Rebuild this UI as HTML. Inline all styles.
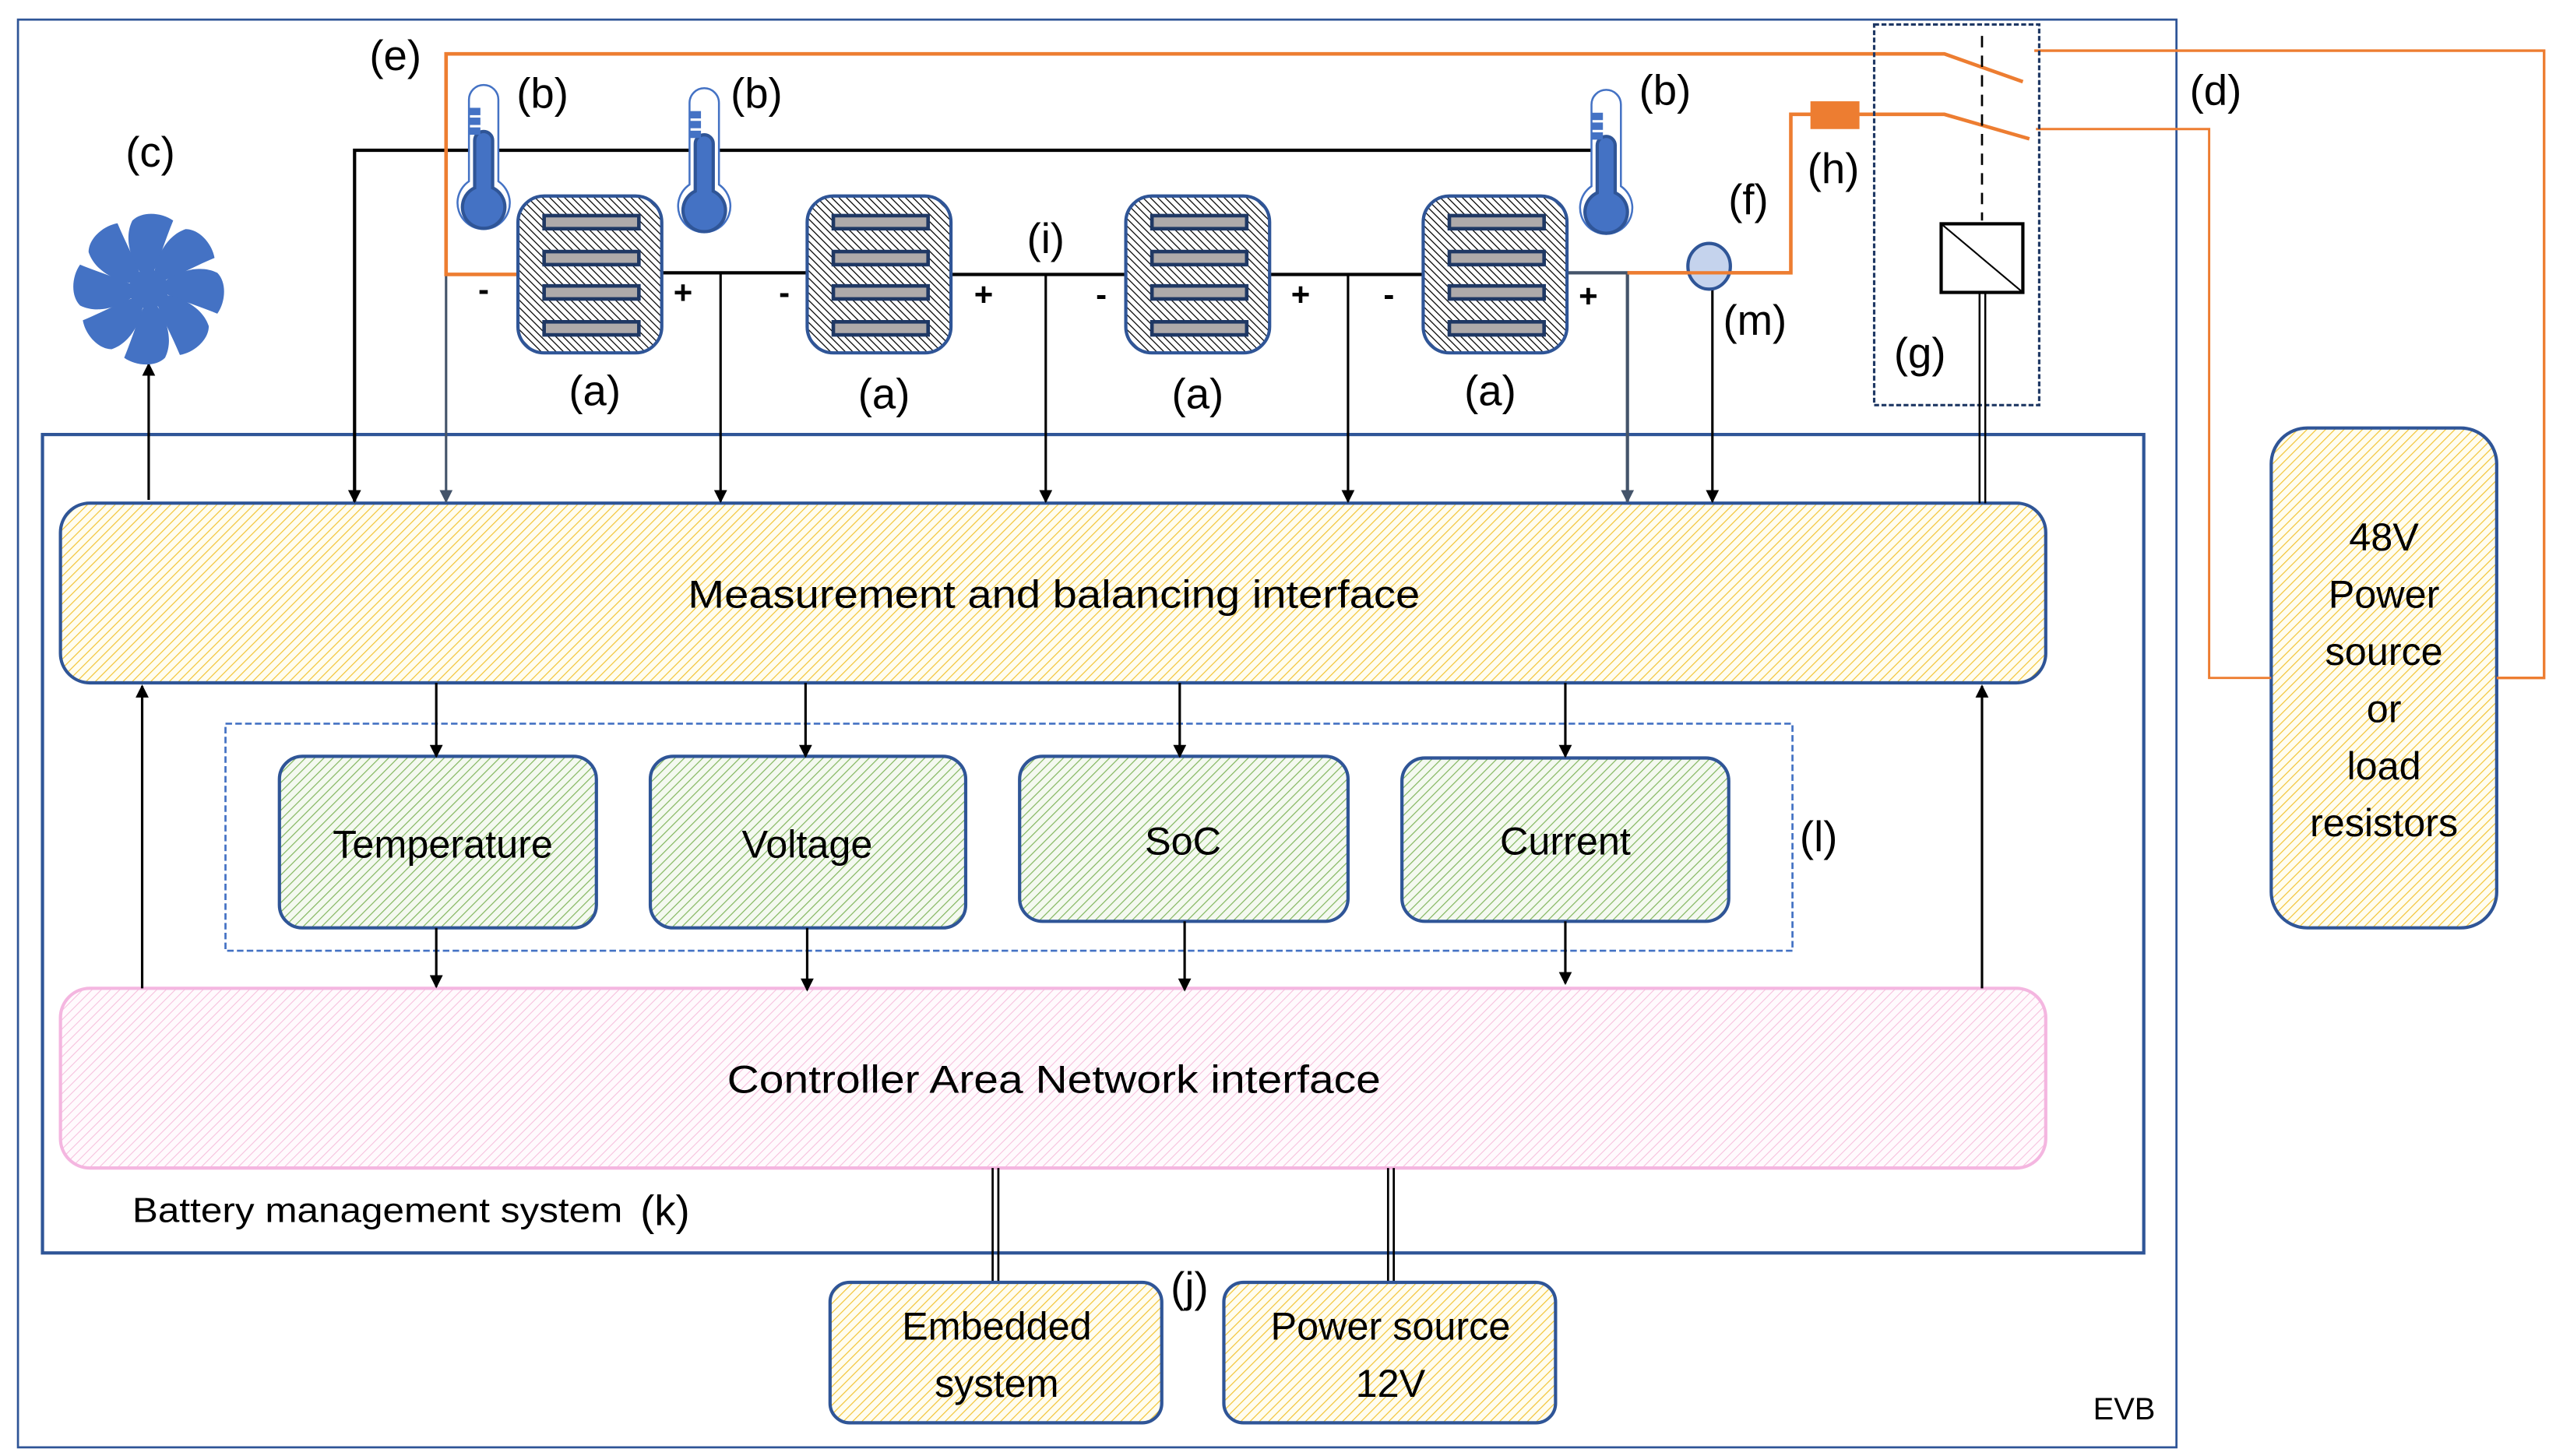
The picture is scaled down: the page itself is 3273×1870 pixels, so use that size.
<!DOCTYPE html>
<html><head><meta charset="utf-8"><style>
html,body{margin:0;padding:0;background:#fff;}
svg{display:block;}
text{font-family:"Liberation Sans",sans-serif;fill:#000;}
</style></head><body>
<svg width="3273" height="1870" viewBox="0 0 1560 891.3" preserveAspectRatio="none" xmlns="http://www.w3.org/2000/svg">
<defs>
<pattern id="py" width="4" height="4" patternUnits="userSpaceOnUse" patternTransform="rotate(45)"><rect width="4" height="4" fill="#fffdf0"/><line x1="0" y1="0" x2="0" y2="4" stroke="#f2c230" stroke-width="1.1"/></pattern>
<pattern id="pg" width="4" height="4" patternUnits="userSpaceOnUse" patternTransform="rotate(45)"><rect width="4" height="4" fill="#f4f9f0"/><line x1="0" y1="0" x2="0" y2="4" stroke="#7fb45a" stroke-width="1.1"/></pattern>
<pattern id="pp" width="4" height="4" patternUnits="userSpaceOnUse" patternTransform="rotate(45)"><rect width="4" height="4" fill="#fffafd"/><line x1="0" y1="0" x2="0" y2="4" stroke="#f6bfdc" stroke-width="1"/></pattern>
<pattern id="pb" width="3.2" height="3.2" patternUnits="userSpaceOnUse" patternTransform="rotate(-45)"><rect width="3.2" height="3.2" fill="#fff"/><line x1="0" y1="0" x2="0" y2="3.2" stroke="#000" stroke-width="1.2"/></pattern>
<marker id="ah" markerWidth="8" markerHeight="8" refX="7" refY="4" orient="auto" markerUnits="userSpaceOnUse"><path d="M0,0 L8,4 L0,8 Z" fill="#000"/></marker>
<marker id="ahg" markerWidth="8" markerHeight="8" refX="7" refY="4" orient="auto" markerUnits="userSpaceOnUse"><path d="M0,0 L8,4 L0,8 Z" fill="#44546a"/></marker>
<g id="cell">
<rect x="0" y="0" width="88" height="96" rx="16" fill="url(#pb)" stroke="#2f5597" stroke-width="2"/>
<rect x="16" y="12" width="58" height="8" fill="#aeaaaa" stroke="#1f3864" stroke-width="2.2"/>
<rect x="16" y="34" width="58" height="8" fill="#aeaaaa" stroke="#1f3864" stroke-width="2.2"/>
<rect x="16" y="55" width="58" height="8" fill="#aeaaaa" stroke="#1f3864" stroke-width="2.2"/>
<rect x="16" y="77" width="58" height="8" fill="#aeaaaa" stroke="#1f3864" stroke-width="2.2"/>
</g>
<g id="thermo">
<path d="M-9,-13 L-9,-63 A9,9 0 0 1 9,-63 L9,-13 A16,16 0 1 1 -9,-13 Z" fill="#fff" stroke="#4472c4" stroke-width="1.2"/>
<path d="M-5.5,-9 L-5.5,-38 A5.5,5.5 0 0 1 5.5,-38 L5.5,-9 A13,13 0 1 1 -5.5,-9 Z" fill="#4472c4" stroke="#2f5597" stroke-width="2"/>
<rect x="-9" y="-58" width="7" height="4.5" fill="#4472c4"/>
<rect x="-9" y="-52" width="7" height="4.5" fill="#4472c4"/>
<rect x="-9" y="-46" width="7" height="4.5" fill="#4472c4"/>
</g>
<path id="blade" d="M0,-4 C-10,-14 -16,-30 -10,-42 C-4,-48 8,-47 15,-42 C10,-30 6,-16 0,-4 Z" fill="#4472c4"/>
</defs>

<rect x="11" y="12" width="1321" height="874" fill="none" stroke="#2f5597" stroke-width="1.3"/>
<text x="1300" y="869" font-size="19" text-anchor="middle">EVB</text>

<rect x="26" y="266" width="1286" height="501" fill="none" stroke="#2f5597" stroke-width="2"/>

<rect x="37" y="308" width="1215" height="110" rx="18" fill="url(#py)" stroke="#2f5597" stroke-width="2"/>
<text x="645" y="372" font-size="24" text-anchor="middle" textLength="448" lengthAdjust="spacingAndGlyphs">Measurement and balancing interface</text>

<rect x="138" y="443" width="959" height="139" fill="none" stroke="#4472c4" stroke-width="1.3" stroke-dasharray="4,2"/>
<text x="1113" y="521" font-size="26" text-anchor="middle">(l)</text>

<rect x="171" y="463" width="194" height="105" rx="14" fill="url(#pg)" stroke="#2f5597" stroke-width="2"/>
<text x="271" y="525" font-size="24" text-anchor="middle">Temperature</text>
<rect x="398" y="463" width="193" height="105" rx="14" fill="url(#pg)" stroke="#2f5597" stroke-width="2"/>
<text x="494" y="525" font-size="24" text-anchor="middle">Voltage</text>
<rect x="624" y="463" width="201" height="101" rx="14" fill="url(#pg)" stroke="#2f5597" stroke-width="2"/>
<text x="724" y="523" font-size="24" text-anchor="middle">SoC</text>
<rect x="858" y="464" width="200" height="100" rx="14" fill="url(#pg)" stroke="#2f5597" stroke-width="2"/>
<text x="958" y="523" font-size="24" text-anchor="middle">Current</text>

<rect x="37" y="605" width="1215" height="110" rx="18" fill="url(#pp)" stroke="#f4b6e0" stroke-width="2"/>
<text x="645" y="669" font-size="24" text-anchor="middle" textLength="400" lengthAdjust="spacingAndGlyphs">Controller Area Network interface</text>

<text x="81" y="748" font-size="21" textLength="300" lengthAdjust="spacingAndGlyphs">Battery management system</text>
<text x="407" y="750" font-size="26" text-anchor="middle">(k)</text>

<g stroke="#000" stroke-width="1.3">
<line x1="607.5" y1="715" x2="607.5" y2="785"/><line x1="611" y1="715" x2="611" y2="785"/>
<line x1="849.5" y1="715" x2="849.5" y2="785"/><line x1="853" y1="715" x2="853" y2="785"/>
</g>
<rect x="508" y="785" width="203" height="86" rx="12" fill="url(#py)" stroke="#2f5597" stroke-width="2"/>
<text x="610" y="820" font-size="24" text-anchor="middle">Embedded</text>
<text x="610" y="855" font-size="24" text-anchor="middle">system</text>
<rect x="749" y="785" width="203" height="86" rx="12" fill="url(#py)" stroke="#2f5597" stroke-width="2"/>
<text x="851" y="820" font-size="24" text-anchor="middle">Power source</text>
<text x="851" y="855" font-size="24" text-anchor="middle">12V</text>
<text x="728" y="797" font-size="26" text-anchor="middle">(j)</text>

<rect x="1390" y="262" width="138" height="306" rx="22" fill="url(#py)" stroke="#2f5597" stroke-width="2"/>
<g font-size="24" text-anchor="middle">
<text x="1459" y="337">48V</text><text x="1459" y="372">Power</text><text x="1459" y="407">source</text>
<text x="1459" y="442">or</text><text x="1459" y="477">load</text><text x="1459" y="512">resistors</text>
</g>

<g stroke="#000" stroke-width="1.5" fill="none">
<line x1="91" y1="306" x2="91" y2="223" marker-end="url(#ah)"/>
<line x1="87" y1="605" x2="87" y2="420" marker-end="url(#ah)"/>
<line x1="1213" y1="605" x2="1213" y2="420" marker-end="url(#ah)"/>
<line x1="267" y1="418" x2="267" y2="463" marker-end="url(#ah)"/>
<line x1="493" y1="418" x2="493" y2="463" marker-end="url(#ah)"/>
<line x1="722" y1="418" x2="722" y2="463" marker-end="url(#ah)"/>
<line x1="958" y1="418" x2="958" y2="463" marker-end="url(#ah)"/>
<line x1="267" y1="568" x2="267" y2="604" marker-end="url(#ah)"/>
<line x1="494" y1="568" x2="494" y2="606" marker-end="url(#ah)"/>
<line x1="725" y1="564" x2="725" y2="606" marker-end="url(#ah)"/>
<line x1="958" y1="564" x2="958" y2="602" marker-end="url(#ah)"/>
</g>

<g stroke="#000" stroke-width="2" fill="none">
<polyline points="975,92 217,92 217,307" marker-end="url(#ah)"/>
<line x1="405" y1="167" x2="494" y2="167"/>
<line x1="582" y1="168" x2="689" y2="168"/>
<line x1="777" y1="168" x2="871" y2="168"/>
<line x1="441" y1="167" x2="441" y2="307" marker-end="url(#ah)" stroke-width="1.5"/>
<line x1="640" y1="168" x2="640" y2="307" marker-end="url(#ah)" stroke-width="1.5"/>
<line x1="825" y1="168" x2="825" y2="307" marker-end="url(#ah)" stroke-width="1.5"/>
<line x1="1048" y1="176" x2="1048" y2="307" marker-end="url(#ah)" stroke-width="1.5"/>
</g>
<g stroke="#44546a" stroke-width="1.5" fill="none">
<line x1="273" y1="168" x2="273" y2="307" marker-end="url(#ahg)"/>
<polyline points="959,167 996,167 996,307" marker-end="url(#ahg)" stroke-width="2"/>
</g>

<g stroke="#ed7d31" fill="none">
<polyline points="317,168 273,168 273,33 1190,33 1238,50" stroke-width="2.2"/>
<polyline points="996,167 1096,167 1096,70 1190,70 1242,85" stroke-width="2.2"/>
<polyline points="1245,31 1557,31 1557,415 1528,415" stroke-width="1.6"/>
<polyline points="1246,79 1352,79 1352,415 1390,415" stroke-width="1.4"/>
</g>
<rect x="1108" y="62" width="30" height="17" fill="#ed7d31"/>

<rect x="1147" y="15" width="101" height="233" fill="none" stroke="#1f3864" stroke-width="1.5" stroke-dasharray="3,1.5"/>
<line x1="1213" y1="22" x2="1213" y2="135" stroke="#000" stroke-width="1.3" stroke-dasharray="7,5"/>
<rect x="1188" y="137" width="50" height="42" fill="#fff" stroke="#000" stroke-width="2"/>
<line x1="1188" y1="137" x2="1238" y2="179" stroke="#000" stroke-width="1"/>
<line x1="1211.5" y1="179" x2="1211.5" y2="308" stroke="#000" stroke-width="1.2"/>
<line x1="1215" y1="179" x2="1215" y2="308" stroke="#000" stroke-width="1.2"/>

<ellipse cx="1046" cy="163" rx="13" ry="14" fill="#c5d3ed" stroke="#2f5597" stroke-width="2"/>
<line x1="996" y1="167" x2="1096" y2="167" stroke="#ed7d31" stroke-width="2"/>

<use href="#cell" x="317" y="120"/>
<use href="#cell" x="494" y="120"/>
<use href="#cell" x="689" y="120"/>
<use href="#cell" x="871" y="120"/>

<use href="#thermo" x="296" y="124"/>
<use href="#thermo" x="431" y="126"/>
<use href="#thermo" x="983" y="127"/>

<g transform="translate(91,177)">
<use href="#blade" transform="rotate(0)"/><use href="#blade" transform="rotate(45)"/>
<use href="#blade" transform="rotate(90)"/><use href="#blade" transform="rotate(135)"/>
<use href="#blade" transform="rotate(180)"/><use href="#blade" transform="rotate(225)"/>
<use href="#blade" transform="rotate(270)"/><use href="#blade" transform="rotate(315)"/>
<circle r="12" fill="#4472c4"/>
</g>

<g font-size="26" text-anchor="middle">
<text x="364" y="248">(a)</text><text x="541" y="250">(a)</text>
<text x="733" y="250">(a)</text><text x="912" y="248">(a)</text>
<text x="332" y="66">(b)</text><text x="463" y="66">(b)</text><text x="1019" y="64">(b)</text>
<text x="92" y="102">(c)</text><text x="242" y="43">(e)</text><text x="1356" y="64">(d)</text>
<text x="1070" y="131">(f)</text><text x="1122" y="112">(h)</text><text x="1074" y="205">(m)</text>
<text x="1175" y="225">(g)</text><text x="640" y="155">(i)</text>
</g>
<g font-size="20" font-weight="bold" text-anchor="middle">
<text x="296" y="184">-</text><text x="418" y="186">+</text>
<text x="480" y="186">-</text><text x="602" y="187">+</text>
<text x="674" y="187">-</text><text x="796" y="187">+</text>
<text x="850" y="187">-</text><text x="972" y="188">+</text>
</g>
</svg>
</body></html>
